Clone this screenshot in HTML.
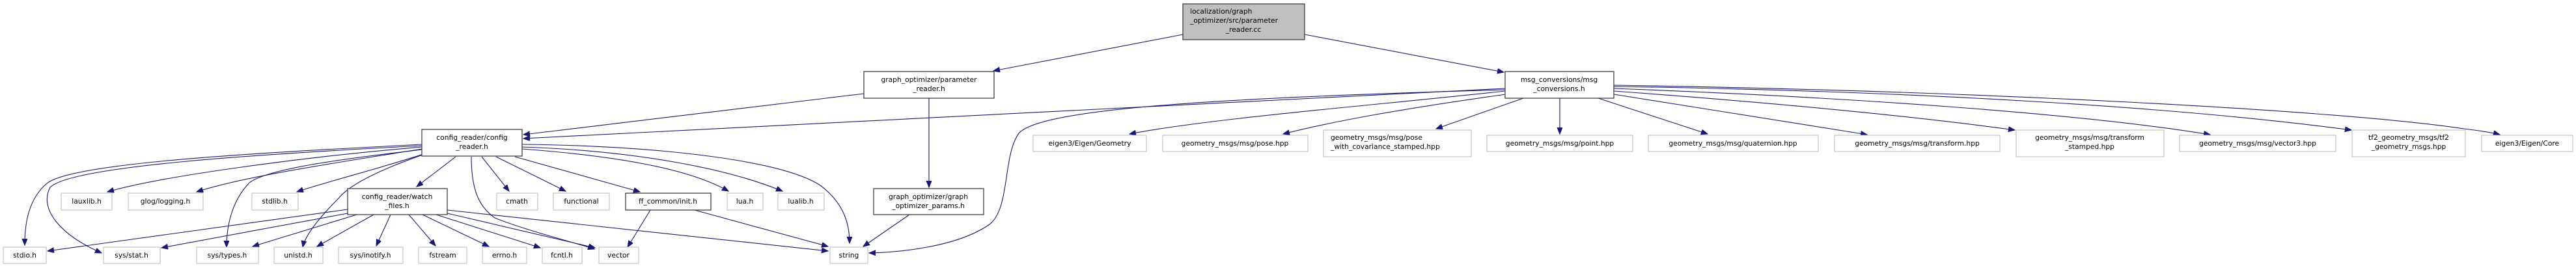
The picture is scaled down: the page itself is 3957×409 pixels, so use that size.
<!DOCTYPE html>
<html><head><meta charset="utf-8"><style>
html,body{margin:0;padding:0;background:#fff;}
svg{display:block;}
text{font-family:"DejaVu Sans","Liberation Sans",sans-serif;font-size:10.7px;fill:#000;}
.e{fill:none;stroke:#191970;stroke-width:1.1;marker-end:url(#a);}
.n{fill:#fff;stroke:#404040;stroke-width:1.3;}
.g{fill:#fff;stroke:#bfbfbf;stroke-width:1.1;}
</style></head><body>
<svg width="3957" height="409" viewBox="0 0 3957 409" xmlns="http://www.w3.org/2000/svg">
<defs><marker id="a" markerUnits="userSpaceOnUse" markerWidth="12" markerHeight="10" refX="10" refY="4" orient="auto"><path d="M0,0 L10,4 L0,8 Z" fill="#191970" stroke="#191970"/></marker></defs>

<!-- edges -->
<path class="e" d="M1817,53 L1526,109"/>
<path class="e" d="M2004,53 L2310,111"/>
<path class="e" d="M1327,144 L804,207"/>
<path class="e" d="M1427,151 L1427,288"/>
<path class="e" d="M2312,136 L804,213"/>
<path class="e" d="M2312,138 C1900,150 1600,165 1565,205 C1540,240 1552,320 1520,345 C1470,380 1380,388 1335,389"/>
<path class="e" d="M2312,140 C2100,163 1860,182 1735,206"/>
<path class="e" d="M2313,145 C2150,168 2050,186 1971,206"/>
<path class="e" d="M2340,151 L2206,198"/>
<path class="e" d="M2396,151 L2396,206"/>
<path class="e" d="M2455,151 L2623,206"/>
<path class="e" d="M2479,145 L2868,207"/>
<path class="e" d="M2479,140 C2750,160 2950,180 3095,200"/>
<path class="e" d="M2479,136 C2850,150 3200,175 3395,207"/>
<path class="e" d="M2479,133 C2950,140 3350,165 3612,200"/>
<path class="e" d="M2479,131 C3050,140 3600,170 3785,198 C3810,201 3828,204 3840,207"/>

<!-- config_reader out -->
<path class="e" d="M648,222 C400,235 110,250 72,282 C45,305 38,340 38,377"/>
<path class="e" d="M648,224 C400,237 110,255 77,288 C60,320 90,360 156,389"/>
<path class="e" d="M648,226 C480,240 250,270 165,295"/>
<path class="e" d="M648,229 C520,250 380,270 302,295"/>
<path class="e" d="M648,230 C520,245 410,260 383,281 C355,310 348,350 348,380"/>
<path class="e" d="M650,237 C580,260 500,280 456,295"/>
<path class="e" d="M655,236 C600,255 540,280 520,305 C485,340 468,365 465,380"/>
<path class="e" d="M700,241 L640,287"/>
<path class="e" d="M724,241 C724,300 740,320 760,335 C810,355 880,372 913,383"/>
<path class="e" d="M740,241 L782,294"/>
<path class="e" d="M762,241 L869,294"/>
<path class="e" d="M791,241 L983,295"/>
<path class="e" d="M802,229 C950,240 1060,260 1119,294"/>
<path class="e" d="M802,226 C980,232 1120,260 1202,294"/>
<path class="e" d="M802,222 C1000,224 1200,245 1260,285 C1300,315 1305,350 1305,374"/>

<!-- watch_files out -->
<path class="e" d="M534,322 L73,386"/>
<path class="e" d="M534,328 L248,381"/>
<path class="e" d="M548,330 L388,379"/>
<path class="e" d="M574,330 L487,379"/>
<path class="e" d="M600,330 L578,378"/>
<path class="e" d="M628,330 L669,378"/>
<path class="e" d="M649,330 L751,379"/>
<path class="e" d="M670,330 L830,381"/>
<path class="e" d="M687,328 L914,381"/>
<path class="e" d="M687,323 L1272,386"/>
<!-- ff_common out -->
<path class="e" d="M999,323 L964,380"/>
<path class="e" d="M1067,323 L1272,379"/>
<!-- params out -->
<path class="e" d="M1397,330 L1326,379"/>

<!-- nodes -->
<rect x="1817" y="6" width="187" height="55" fill="#bfbfbf" stroke="#404040" stroke-width="1.3"/>
<text x="1828" y="21">localization/graph</text>
<text x="1828" y="35">_optimizer/src/parameter</text>
<text x="1910" y="49" text-anchor="middle">_reader.cc</text>

<rect class="n" x="1327" y="110" width="200" height="41"/>
<text x="1427" y="126" text-anchor="middle">graph_optimizer/parameter</text>
<text x="1427" y="140" text-anchor="middle">_reader.h</text>

<rect class="n" x="2312" y="110" width="167" height="41"/>
<text x="2395" y="126" text-anchor="middle">msg_conversions/msg</text>
<text x="2395" y="140" text-anchor="middle">_conversions.h</text>

<rect class="n" x="648" y="199" width="154" height="41"/>
<text x="725" y="215" text-anchor="middle">config_reader/config</text>
<text x="725" y="229" text-anchor="middle">_reader.h</text>

<rect class="g" x="1587" y="208" width="174" height="25"/><text x="1674" y="224" text-anchor="middle">eigen3/Eigen/Geometry</text>
<rect class="g" x="1786" y="208" width="223" height="25"/><text x="1897" y="224" text-anchor="middle">geometry_msgs/msg/pose.hpp</text>
<rect class="g" x="2033" y="200" width="227" height="41"/>
<text x="2044" y="215">geometry_msgs/msg/pose</text>
<text x="2044" y="229">_with_covariance_stamped.hpp</text>
<rect class="g" x="2284" y="208" width="224" height="25"/><text x="2396" y="224" text-anchor="middle">geometry_msgs/msg/point.hpp</text>
<rect class="g" x="2532" y="208" width="261" height="25"/><text x="2662" y="224" text-anchor="middle">geometry_msgs/msg/quaternion.hpp</text>
<rect class="g" x="2818" y="208" width="254" height="25"/><text x="2945" y="224" text-anchor="middle">geometry_msgs/msg/transform.hpp</text>
<rect class="g" x="3097" y="200" width="227" height="41"/>
<text x="3210" y="215" text-anchor="middle">geometry_msgs/msg/transform</text>
<text x="3210" y="229" text-anchor="middle">_stamped.hpp</text>
<rect class="g" x="3348" y="208" width="240" height="25"/><text x="3468" y="224" text-anchor="middle">geometry_msgs/msg/vector3.hpp</text>
<rect class="g" x="3613" y="200" width="174" height="41"/>
<text x="3700" y="215" text-anchor="middle">tf2_geometry_msgs/tf2</text>
<text x="3700" y="229" text-anchor="middle">_geometry_msgs.hpp</text>
<rect class="g" x="3812" y="208" width="140" height="25"/><text x="3882" y="224" text-anchor="middle">eigen3/Eigen/Core</text>

<rect class="g" x="94" y="297" width="78" height="26"/><text x="133" y="313" text-anchor="middle">lauxlib.h</text>
<rect class="g" x="197" y="297" width="115" height="26"/><text x="254" y="313" text-anchor="middle">glog/logging.h</text>
<rect class="g" x="387" y="297" width="71" height="26"/><text x="422" y="313" text-anchor="middle">stdlib.h</text>
<rect class="n" x="534" y="290" width="153" height="40"/>
<text x="610" y="306" text-anchor="middle">config_reader/watch</text>
<text x="610" y="320" text-anchor="middle">_files.h</text>
<rect class="g" x="763" y="297" width="63" height="26"/><text x="794" y="313" text-anchor="middle">cmath</text>
<rect class="g" x="850" y="297" width="86" height="26"/><text x="893" y="313" text-anchor="middle">functional</text>
<rect class="n" x="961" y="297" width="131" height="26"/><text x="1026" y="313" text-anchor="middle">ff_common/init.h</text>
<rect class="g" x="1117" y="297" width="55" height="26"/><text x="1144" y="313" text-anchor="middle">lua.h</text>
<rect class="g" x="1195" y="297" width="71" height="26"/><text x="1230" y="313" text-anchor="middle">lualib.h</text>
<rect class="n" x="1342" y="290" width="169" height="40"/>
<text x="1426" y="306" text-anchor="middle">graph_optimizer/graph</text>
<text x="1426" y="320" text-anchor="middle">_optimizer_params.h</text>

<rect class="g" x="5" y="380" width="66" height="25"/><text x="38" y="396" text-anchor="middle">stdio.h</text>
<rect class="g" x="159" y="380" width="87" height="25"/><text x="202" y="396" text-anchor="middle">sys/stat.h</text>
<rect class="g" x="302" y="380" width="95" height="25"/><text x="349" y="396" text-anchor="middle">sys/types.h</text>
<rect class="g" x="421" y="380" width="75" height="25"/><text x="458" y="396" text-anchor="middle">unistd.h</text>
<rect class="g" x="520" y="380" width="99" height="25"/><text x="569" y="396" text-anchor="middle">sys/inotify.h</text>
<rect class="g" x="643" y="380" width="74" height="25"/><text x="680" y="396" text-anchor="middle">fstream</text>
<rect class="g" x="741" y="380" width="68" height="25"/><text x="775" y="396" text-anchor="middle">errno.h</text>
<rect class="g" x="833" y="380" width="61" height="25"/><text x="863" y="396" text-anchor="middle">fcntl.h</text>
<rect class="g" x="920" y="380" width="61" height="25"/><text x="950" y="396" text-anchor="middle">vector</text>
<rect class="g" x="1275" y="380" width="58" height="25"/><text x="1304" y="396" text-anchor="middle">string</text>
</svg>
</body></html>
